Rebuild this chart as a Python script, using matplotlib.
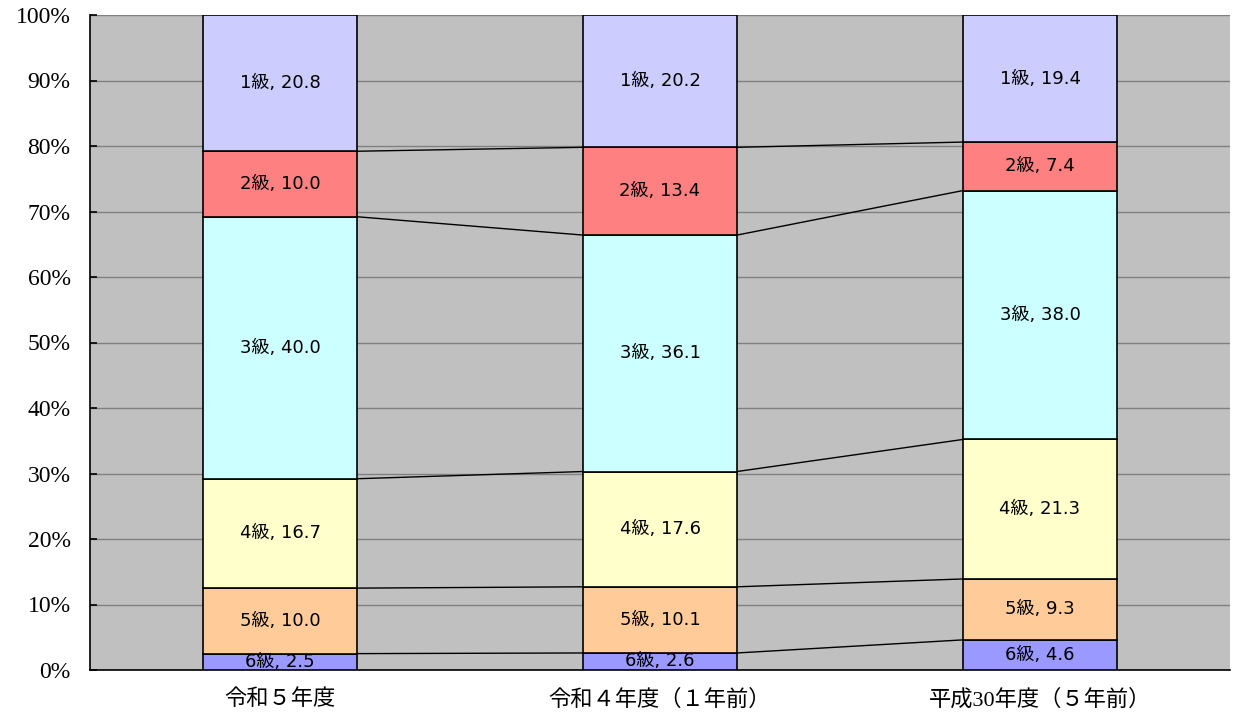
import matplotlib
matplotlib.use("Agg")
import matplotlib.pyplot as plt
import numpy as np

categories = ["令和５年度", "令和４年度（１年前）", "平成30年度（５年前）"]
series_names = ["6級", "5級", "4級", "3級", "2級", "1級"]
values = {
    "6級": [2.5, 2.6, 4.6],
    "5級": [10.0, 10.1, 9.3],
    "4級": [16.7, 17.6, 21.3],
    "3級": [40.0, 36.1, 38.0],
    "2級": [10.0, 13.4, 7.4],
    "1級": [20.8, 20.2, 19.4],
}
colors = {
    "6級": "#9999FF",
    "5級": "#FFCC99",
    "4級": "#FFFFCC",
    "3級": "#CCFFFF",
    "2級": "#FF8080",
    "1級": "#CCCCFF",
}
yticks = [0, 10, 20, 30, 40, 50, 60, 70, 80, 90, 100]

fig = plt.figure(figsize=(12.34, 7.17), dpi=100)
ax = fig.add_axes([90/1234, 47/717, 1140/1234, 655/717])
ax.set_facecolor("#C0C0C0")

x = np.arange(len(categories))
w = 0.405
bottom = np.zeros(len(categories))
label_font = ["DejaVu Sans", "Noto Sans CJK JP"]
for name in series_names:
    vals = np.array(values[name])
    ax.bar(x, vals, w, bottom=bottom, color=colors[name], edgecolor="black",
           linewidth=1.2, zorder=3)
    tops = bottom + vals
    for i in range(len(categories)):
        ax.text(x[i], bottom[i] + vals[i] / 2, f"{name}, {vals[i]:.1f}",
                ha="center", va="center", fontsize=13, family=label_font,
                zorder=4)
    if name != series_names[-1]:
        for i in range(len(categories) - 1):
            ax.plot([x[i] + w / 2, x[i + 1] - w / 2], [tops[i], tops[i + 1]],
                    color="black", linewidth=1.0, zorder=2)
    bottom = tops

ax.set_xlim(-0.5, len(categories) - 0.5)
ax.set_ylim(0, 100)
ax.tick_params(axis="x", length=0, pad=14)
ax.tick_params(axis="y", direction="in", length=5, width=1.2, pad=14)
ax.set_yticks(yticks)
ax.set_yticklabels([f"{t}%" for t in yticks])
ax.yaxis.grid(True, color="#808080", linewidth=1.0, zorder=1)
ax.set_axisbelow(True)
ax.set_xticks(x)
ax.set_xticklabels(categories)
for lbl in ax.get_yticklabels():
    lbl.set_fontfamily(["Liberation Serif"])
    lbl.set_fontsize(17)
for lbl in ax.get_xticklabels():
    lbl.set_fontfamily(["Liberation Serif", "Noto Sans CJK JP"])
    lbl.set_fontsize(16)
for s in ["top", "right"]:
    ax.spines[s].set_visible(False)
ax.spines["left"].set_linewidth(1.2)
ax.spines["bottom"].set_linewidth(1.2)

fig.savefig("out.png", dpi=100)
